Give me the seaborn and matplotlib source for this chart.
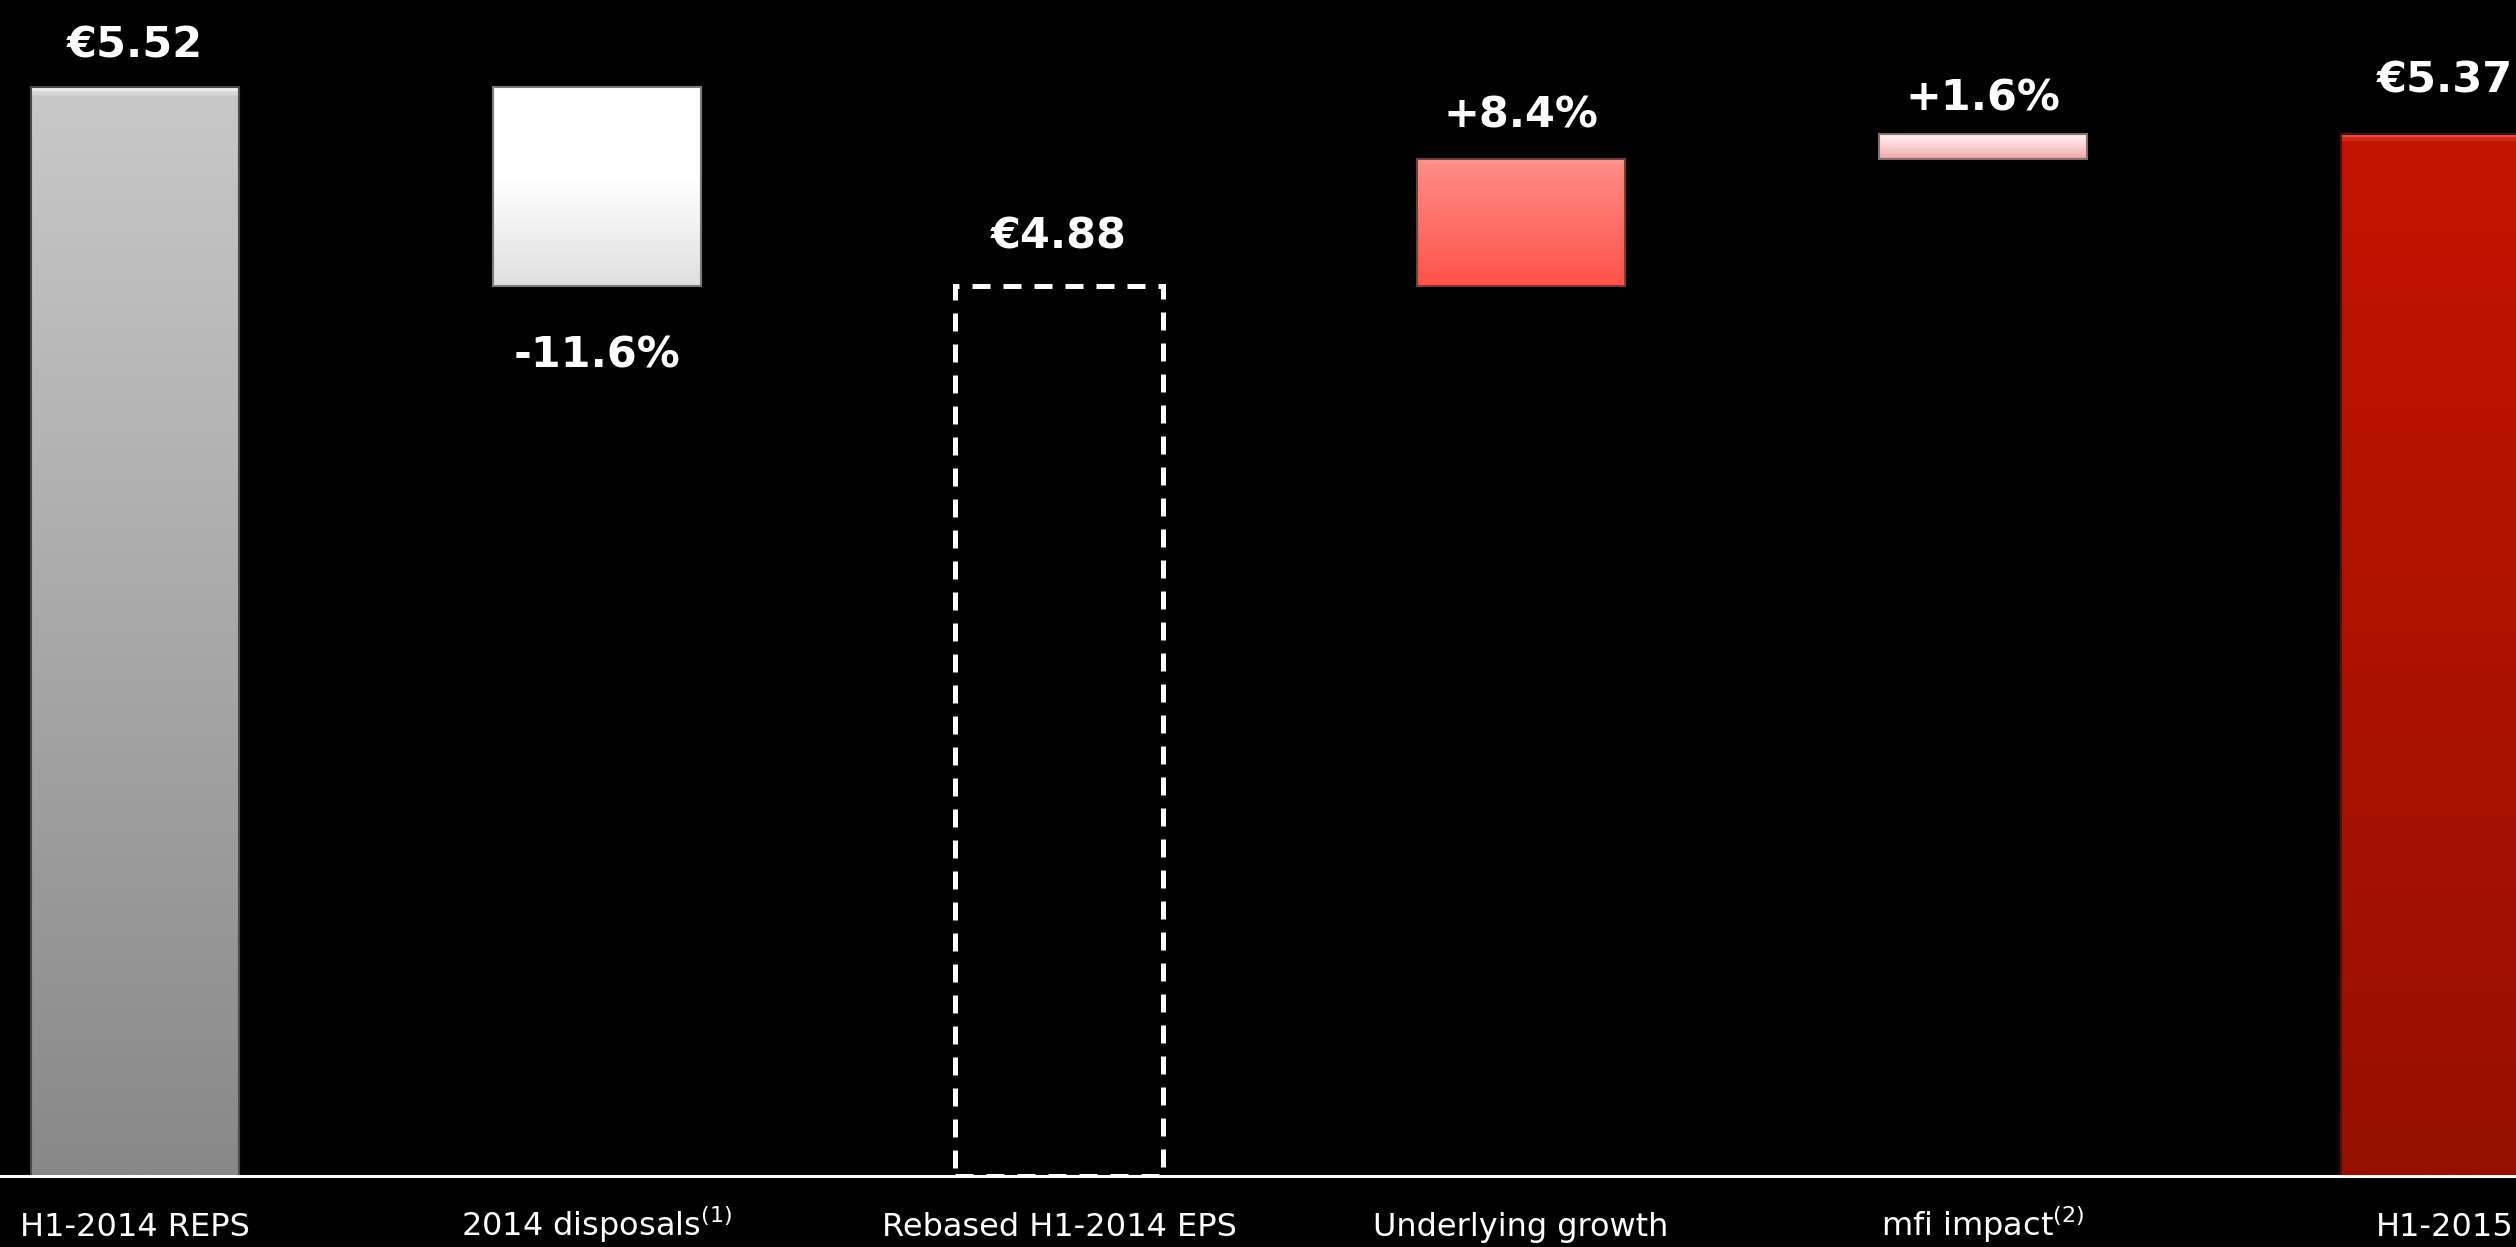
import numpy as np
import pandas as pd
import matplotlib
matplotlib.use("Agg")
import matplotlib.pyplot as plt
from matplotlib.colors import LinearSegmentedColormap
import seaborn as sns

# ---- data -------------------------------------------------------------
steps = [
    "H1-2014 REPS",
    "2014 disposals$^{(1)}$",
    "Rebased H1-2014 EPS",
    "Underlying growth",
    "mfi impact$^{(2)}$",
    "H1-2015",
]
eps_h1_2014 = 5.52          # reported EPS H1-2014 (EUR)
eps_rebased_2014 = 4.88     # rebased H1-2014 EPS (EUR)
eps_h1_2015 = 5.37          # reported EPS H1-2015 (EUR)
pct_disposals = -11.6
pct_underlying = 8.4
pct_mfi = 1.6

# ---- waterfall geometry ------------------------------------------------
Y_FLOOR, Y_TOP = 2.02, 5.80
after_growth = round(eps_rebased_2014 * (1 + pct_underlying / 100), 2)
tops = [eps_h1_2014, eps_h1_2014, eps_rebased_2014, after_growth, eps_h1_2015, eps_h1_2015]
bottoms = [Y_FLOOR, eps_rebased_2014, Y_FLOOR, eps_rebased_2014, after_growth, Y_FLOOR]
df = pd.DataFrame({"step": steps, "top": tops, "bottom": bottoms})

labels = [
    f"€{eps_h1_2014:.2f}",
    f"{pct_disposals:+.1f}%",
    f"€{eps_rebased_2014:.2f}",
    f"{pct_underlying:+.1f}%",
    f"{pct_mfi:+.1f}%",
    f"€{eps_h1_2015:.2f}",
]

# ---- style -----------------------------------------------------------------
sns.set_theme(style="white")
plt.rcParams["font.family"] = ["DejaVu Sans"]
plt.rcParams["mathtext.default"] = "regular"

W, H, DPI = 2516, 1247, 100
fig = plt.figure(figsize=(W / DPI, H / DPI), dpi=DPI, facecolor="black")
slot = 462.0
first_center = 135.0
base_px = 1176.0
ax = fig.add_axes([
    (first_center - slot / 2) / W,
    (H - base_px) / H,
    6 * slot / W,
    base_px / H,
])
ax.set_facecolor("black")

sns.barplot(data=df, x="step", y="top", width=0.452, color="#888888",
            errorbar=None, ax=ax, zorder=2)
ax.set_xlim(-0.5, 5.5)
ax.set_ylim(Y_FLOOR, Y_TOP)

# gradient fills (top colour first); None -> dashed outline only
fills = [
    [(0.0, "#ececec"), ("hl", "#c8c8c8"), (1.0, "#888888")],
    [(0.0, "#ffffff"), (0.45, "#ffffff"), (1.0, "#e0e0e0")],
    None,
    [(0.0, "#ff9a94"), ("hl", "#ff8b85"), (1.0, "#ff5247")],
    [(0.0, "#fff0f0"), (0.25, "#ffe2e2"), (0.85, "#f2b6b6"), (1.0, "#e0a4a4")],
    [(0.0, "#ea4a36"), ("hl", "#c41400"), (1.0, "#961000")],
]
edges = ["#4a4a4a", "#7a7a7a", None, "#6e3e3c", "#8a6e6e", "#5a0800"]

px_per_unit = base_px / (Y_TOP - Y_FLOOR)

for patch, bottom, top, stops, edge in zip(ax.patches, df["bottom"], df["top"], fills, edges):
    patch.set_y(bottom)
    patch.set_height(top - bottom)
    if stops is None:
        patch.set_facecolor("none")
        patch.set_edgecolor("white")
        patch.set_linewidth(3.6)
        patch.set_linestyle((0, (3.6, 2.6)))
        patch.set_zorder(3)
        continue
    hl = min(0.3, 7.0 / ((top - bottom) * px_per_unit))
    stops = [(hl if p == "hl" else p, c) for p, c in stops]
    cmap = LinearSegmentedColormap.from_list("bar", stops)
    grad = np.linspace(0, 1, 1024).reshape(-1, 1)
    x0, w = patch.get_x(), patch.get_width()
    im = ax.imshow(grad, cmap=cmap, vmin=0, vmax=1, origin="upper", aspect="auto",
                   extent=[x0, x0 + w, bottom, top], interpolation="bilinear", zorder=2)
    im.set_clip_path(patch)
    patch.set_facecolor("none")
    patch.set_edgecolor(edge)
    patch.set_linewidth(1.5)
    patch.set_zorder(2.5)

ax.set_xlim(-0.5, 5.5)
ax.set_ylim(Y_FLOOR, Y_TOP)

# value / change labels
offsets = [30, -48, 38, 31, 23, 41]
for i, (txt, top, bottom, off) in enumerate(zip(labels, df["top"], df["bottom"], offsets)):
    if off >= 0:
        ax.annotate(txt, (i, top), xytext=(0, off), textcoords="offset pixels",
                    ha="center", va="baseline", color="white", fontsize=31,
                    fontweight="bold", annotation_clip=False)
    else:
        ax.annotate(txt, (i, bottom), xytext=(0, off), textcoords="offset pixels",
                    ha="center", va="top", color="white", fontsize=31,
                    fontweight="bold", annotation_clip=False)

# axes cosmetics
for side in ("top", "right", "left"):
    ax.spines[side].set_visible(False)
ax.spines["bottom"].set_color("white")
ax.spines["bottom"].set_linewidth(2.2)
ax.spines["bottom"].set_zorder(4)
ax.set_yticks([])
ax.set_xlabel("")
ax.set_ylabel("")
ax.tick_params(axis="x", length=0, pad=43, labelsize=23, labelcolor="white")
for lbl in ax.get_xticklabels():
    lbl.set_verticalalignment("baseline")

fig.savefig("out.png", dpi=DPI, facecolor="black")
